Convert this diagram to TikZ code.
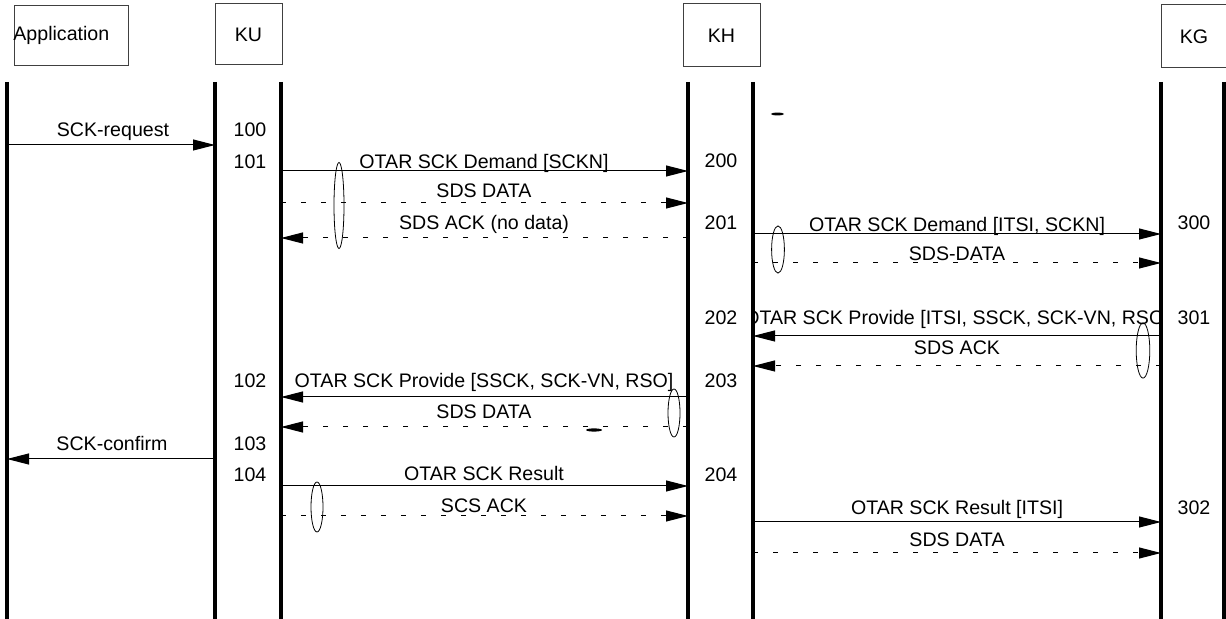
\documentclass[tikz,border=0pt]{standalone}
\usepackage{fontspec}
\setmainfont{Liberation Sans}
\usetikzlibrary{arrows.meta,positioning}

\begin{document}
\begin{tikzpicture}[
  x=0.5pt, y=-0.5pt,
  font=\fontsize{9.8}{11}\selectfont,
  hdr/.style={draw=black!75, line width=0.5pt, inner sep=0pt},
  life/.style={line width=1.6pt},
  msg/.style={-{Triangle[length=11pt,width=5.5pt]}, line width=0.5pt},
  ack/.style={msg, dash pattern=on 2.5pt off 7.5pt},
  lbl/.style={anchor=base, inner sep=0pt},
  num/.style={inner sep=0pt},
  oval/.style={line width=0.4pt}
]
\useasboundingbox (0,0) rectangle (1226,619);

% entity boxes
\node[hdr, minimum width=57pt, minimum height=30pt] (appbox) at (71,36) {};
\node[lbl, anchor=base west] (apptxt) at (13,41) {Application};
\node[hdr, minimum width=33.5pt, minimum height=30.5pt] (kubox) at (248.5,34.5) {KU};
\node[hdr, minimum width=38.5pt, minimum height=31.5pt] (khbox) at (721.5,35.5) {KH};
\node[hdr, minimum width=33pt, minimum height=31.5pt] (kgbox) at (1194,36.5) {KG};

% lifelines
\foreach \n/\x in {app/7, kul/215, kur/281, khl/688, khr/753, kgl/1161, kgr/1224}
  \coordinate (\n) at (\x,82);
\foreach \n in {app,kul,kur,khl,khr,kgl,kgr}
  \draw[life] (\n) -- (\n |- 0,625);

% step numbers
\foreach \t/\x/\y in {100/250/130, 101/250/162, 102/250/381, 103/250/444, 104/250/475,
  200/721/161, 201/721/223, 202/721/318, 203/721/381, 204/721/475,
  300/1194/223, 301/1194/318, 302/1194/508}
  \node[num] (n\t) at (\x,\y) {\t};

% Application <-> KU
\node[lbl] (req) at (113,137) {SCK-request};
\draw[msg] (app |- 0,145) -- (kul |- 0,145);
\node[lbl] (conf) at (112,451) {SCK-confirm};
\draw[msg] (kul |- 0,459) -- (app |- 0,459);

% KU <-> KH
\node[lbl] (dem1) at (484,169) {OTAR SCK Demand [SCKN]};
\draw[msg] (kur |- 0,171) -- (khl |- 0,171);
\node[lbl] (data1) at (484,198) {SDS DATA};
\draw[ack] (kur |- 0,203) -- (khl |- 0,203);
\node[lbl] (ack1) at (484,230) {SDS ACK (no data)};
\draw[ack] (khl |- 0,238) -- (kur |- 0,238);
\draw[oval] (339,205.5) ellipse [x radius=2.5pt, y radius=21.5pt];

\node[lbl] (prov1) at (484,388) {OTAR SCK Provide [SSCK, SCK-VN, RSO]};
\draw[msg] (khl |- 0,397) -- (kur |- 0,397);
\node[lbl] (data3) at (484,419) {SDS DATA};
\draw[ack] (khl |- 0,427) -- (kur |- 0,427);
\draw[oval] (674,413) ellipse [x radius=3pt, y radius=12pt];
\fill (594,430) ellipse [x radius=4pt, y radius=0.8pt];

\node[lbl] (res1) at (484,481) {OTAR SCK Result};
\draw[msg] (kur |- 0,486) -- (khl |- 0,486);
\node[lbl] (ack3) at (484,513) {SCS ACK};
\draw[ack] (kur |- 0,516) -- (khl |- 0,516);
\draw[oval] (317,507) ellipse [x radius=3pt, y radius=12.5pt];

% KH <-> KG
\fill (777.5,114) ellipse [x radius=3.3pt, y radius=0.7pt];
\node[lbl] (dem2) at (957,232) {OTAR SCK Demand [ITSI, SCKN]};
\draw[msg] (khr |- 0,234) -- (kgl |- 0,234);
\node[lbl] (data2) at (957,261) {SDS-DATA};
\draw[ack] (khr |- 0,263) -- (kgl |- 0,263);
\draw[oval] (778,249.5) ellipse [x radius=3.2pt, y radius=11.8pt];

\begin{scope}
  \clip (khr |- 0,300) rectangle (kgl |- 0,340);
  \node[lbl] (prov2) at (957,325) {OTAR SCK Provide [ITSI, SSCK, SCK-VN, RSO]};
\end{scope}
\draw[msg] (kgl |- 0,336) -- (khr |- 0,336);
\node[lbl] (ack2) at (957,355) {SDS ACK};
\draw[ack] (kgl |- 0,366) -- (khr |- 0,366);
\draw[oval] (1143,350.5) ellipse [x radius=3.4pt, y radius=13.8pt];

\node[lbl] (res2) at (957,515) {OTAR SCK Result [ITSI]};
\draw[msg] (khr |- 0,522) -- (kgl |- 0,522);
\node[lbl] (data4) at (957,547) {SDS DATA};
\draw[ack] (khr |- 0,553) -- (kgl |- 0,553);
\end{tikzpicture}
\end{document}
